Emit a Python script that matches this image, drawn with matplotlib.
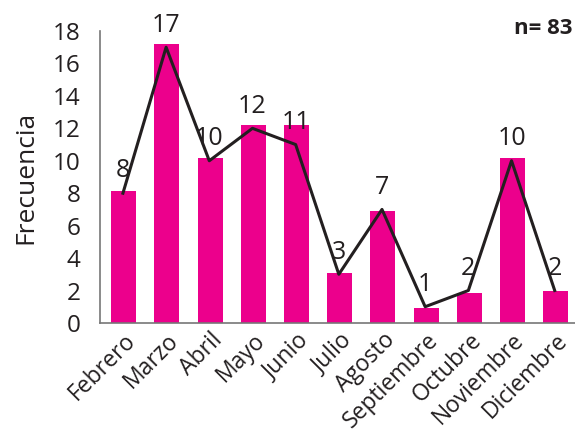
import numpy as np
import matplotlib.pyplot as plt
import matplotlib

font = {'size': 16, 'family': ['Open Sans', 'DejaVu Sans']}
matplotlib.rc('font', **font)

meses = ['Febrero', 'Marzo', 'Abril', 'Mayo', 'Junio', 'Julio', 'Agosto',
         'Septiembre', 'Octubre', 'Noviembre', 'Diciembre']
# bar heights as drawn in the original (slightly off the labelled values)
barras = [8.15, 17.2, 10.2, 12.2, 12.2, 3.1, 6.9, 0.95, 1.85, 10.2, 2.0]
# frequencies used for the line and labels
frecuencia = [8, 17, 10, 12, 11, 3, 7, 1, 2, 10, 2]
total = 83
yticks = [0, 2, 4, 6, 8, 10, 12, 14, 16, 18]

magenta = '#EC008C'
oscuro = '#231F20'

fig = plt.figure(figsize=(5.75, 4.37), dpi=100)
ax = fig.add_axes([0.174, 0.261, 0.826, 0.668])

x = np.arange(len(meses))
ax.bar(x, barras, width=0.58, color=magenta, zorder=1)
ax.plot(x - 0.02, frecuencia, color=oscuro, lw=2.2, zorder=2)

for xi, v in zip(x, frecuencia):
    ax.annotate(str(v), (xi - 0.02, v), xytext=(0, 7), textcoords='offset points',
                ha='center', va='bottom', fontsize=18, color=oscuro)

ax.set_xlim(-0.55, 10.45)
ax.set_ylim(0, 18)
ax.set_yticks(yticks)
ax.set_xticks(x)
ax.set_xticklabels(meses, rotation=45, ha='right', rotation_mode='anchor',
                   fontsize=16.5, color=oscuro)
ax.tick_params(axis='both', length=0, colors=oscuro)
ax.tick_params(axis='y', pad=14, labelsize=17.5)
ax.tick_params(axis='x', pad=4)
ax.set_ylabel('Frecuencia', fontsize=19, color=oscuro, labelpad=10)

for s in ['top', 'right']:
    ax.spines[s].set_visible(False)
for s in ['left', 'bottom']:
    ax.spines[s].set_color('#777777')
    ax.spines[s].set_linewidth(1.2)

fig.text(0.995, 0.935, f'n= {total}', ha='right', va='center',
         fontsize=16, fontweight='bold', color=oscuro)

fig.savefig('out.png', dpi=100)
